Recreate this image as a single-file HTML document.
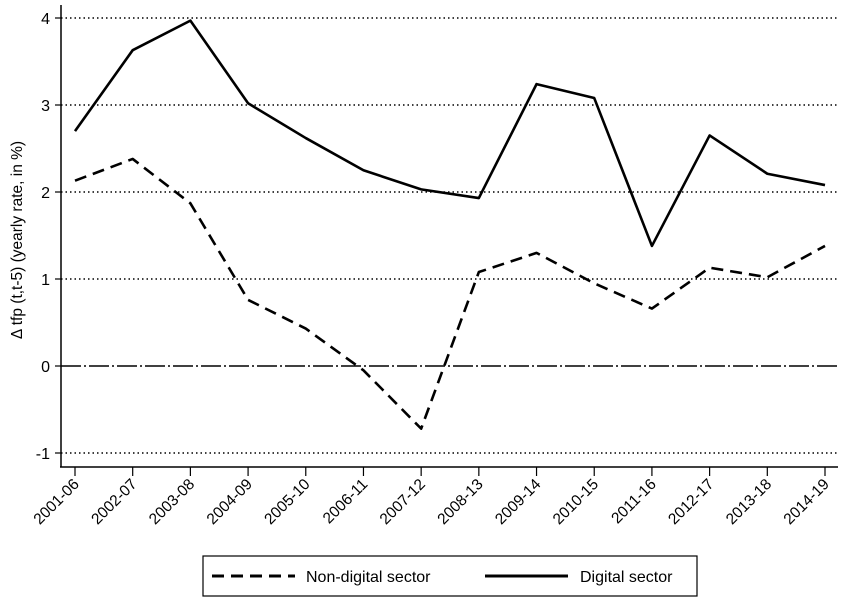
<!DOCTYPE html>
<html><head><meta charset="utf-8"><style>
body{margin:0;background:#fff;}
svg text{font-family:"Liberation Sans",Arial,sans-serif;fill:#000;}
</style></head><body>
<svg width="845" height="600" viewBox="0 0 845 600" xmlns="http://www.w3.org/2000/svg">
<g id="grid"></g>
<g id="axes"></g>
<g id="series"></g>
<text transform="translate(22,240) rotate(-90)" text-anchor="middle" font-size="15.5">Δ tfp (t,t-5) (yearly rate, in %)</text>
<g>
<rect x="203" y="556" width="494" height="40" fill="#fff" stroke="#000" stroke-width="1.2"/>
<g>
<line x1="212" y1="576" x2="295" y2="576" stroke="#000" stroke-width="3" stroke-dasharray="12,7"/>
<text x="306" y="582" font-size="16">Non-digital sector</text>
</g>
<g>
<line x1="485" y1="576" x2="568" y2="576" stroke="#000" stroke-width="3"/>
<text x="580" y="582" font-size="16">Digital sector</text>
</g>
</g>
</svg>
<script>
const categories=["2001-06","2002-07","2003-08","2004-09","2005-10","2006-11","2007-12","2008-13","2009-14","2010-15","2011-16","2012-17","2013-18","2014-19"];
const digital=[2.70,3.63,3.97,3.02,2.62,2.25,2.03,1.93,3.24,3.08,1.38,2.65,2.21,2.08];
const nonDigital=[2.13,2.38,1.87,0.76,0.43,-0.05,-0.72,1.08,1.30,0.95,0.66,1.13,1.02,1.38];
const yTicks=[-1,0,1,2,3,4];
const NS="http://www.w3.org/2000/svg";
const x=i=>75+i*(825-75)/(categories.length-1);
const y=v=>366-v*87;
function mk(tag,attrs,parent){const e=document.createElementNS(NS,tag);for(const k in attrs)e.setAttribute(k,attrs[k]);parent.appendChild(e);return e;}
const grid=document.getElementById('grid'),axes=document.getElementById('axes'),ser=document.getElementById('series');
yTicks.forEach(t=>{
  const g=mk('line',{x1:61,x2:838,y1:y(t),y2:y(t),stroke:'#000','stroke-width':1.5,'stroke-dasharray':t===0?'20,3,2,3':'1.5,3'},grid);
  
  
  const tk=mk('line',{x1:55,x2:61,y1:y(t),y2:y(t),stroke:'#000','stroke-width':1.2},axes);
  
  
  const tx=mk('text',{x:50,y:y(t)+6,'text-anchor':'end','font-size':16},axes);
  tx.textContent=t;
  
  
});
const la=mk('line',{x1:61,x2:61,y1:5,y2:467,stroke:'#000','stroke-width':1.5},axes);


const ba=mk('line',{x1:60,x2:838,y1:467,y2:467,stroke:'#000','stroke-width':1.5},axes);


categories.forEach((c,i)=>{
  const tk=mk('line',{x1:x(i),x2:x(i),y1:467,y2:476,stroke:'#000','stroke-width':1.2},axes);
  
  
  const tx=mk('text',{transform:`translate(${x(i)+5},${485}) rotate(-45)`,'text-anchor':'end','font-size':15.5},axes);
  tx.textContent=c;
  
  
});
function line(vals,dash,name){
  const p=mk('polyline',{points:vals.map((v,i)=>x(i)+','+y(v)).join(' '),fill:'none',stroke:'#000','stroke-width':2.6,'stroke-linejoin':'round'},ser);
  if(dash)p.setAttribute('stroke-dasharray',dash);
  
  
}
line(nonDigital,'12,7','non-digital-line');
line(digital,null,'digital-line');
</script>
</body></html>
